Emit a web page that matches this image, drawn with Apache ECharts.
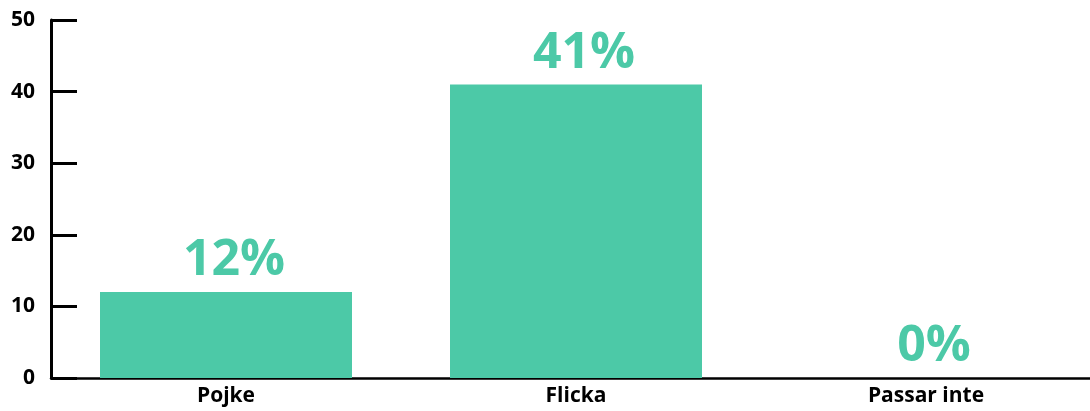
<!DOCTYPE html>
<html lang="sv">
<head>
  <meta charset="UTF-8">
  <title>Pojke / Flicka</title>
  <script src="https://cdn.jsdelivr.net/npm/echarts@6/dist/echarts.min.js"></script>
  <style>
    html, body { margin: 0; padding: 0; background: #fff; }
    #chart { width: 1090px; height: 411px; }
  </style>
</head>
<body>
  <div id="chart"></div>
<script>
  // data
  const categories = ['Pojke', 'Flicka', 'Passar inte'];
  const values = [12, 41, 0];
  const labels = ['12%', '41%', '0%'];

  const green = '#4cc9a7';

  const chart = echarts.init(document.getElementById('chart'));

  const option = {
    animation: false,
    grid: { left: 51, width: 1050, top: 20, bottom: 33, outerBoundsMode: 'none' },
    xAxis: {
      type: 'category',
      data: categories,
      axisLine: { lineStyle: { color: '#000', width: 2.5 } },
      axisTick: { inside: true, length: 8, interval: 0, lineStyle: { color: '#000', width: 2 } },
      axisLabel: {
        color: '#000',
        fontFamily: 'Open Sans',
        fontWeight: 'bold',
        fontSize: 21,
        margin: 8
      }
    },
    yAxis: {
      type: 'value',
      min: 0,
      max: 50,
      interval: 10,
      splitLine: { show: false },
      axisLine: { show: true, lineStyle: { color: '#000', width: 3 } },
      axisTick: { show: true, inside: true, length: 26, lineStyle: { color: '#000', width: 3 } },
      axisLabel: {
        color: '#000',
        fontFamily: 'Open Sans',
        fontWeight: 'bold',
        fontSize: 21,
        margin: 16
      }
    },
    series: [{
      type: 'bar',
      data: values,
      barWidth: '72%',
      itemStyle: { color: green },
      label: {
        show: true,
        position: 'top',
        distance: 6,
        offset: [8, 0],
        color: green,
        fontFamily: 'Open Sans',
        fontWeight: 'bold',
        fontSize: 50,
        formatter: p => labels[p.dataIndex]
      }
    }]
  };

  chart.setOption(option);
</script>
</body>
</html>
